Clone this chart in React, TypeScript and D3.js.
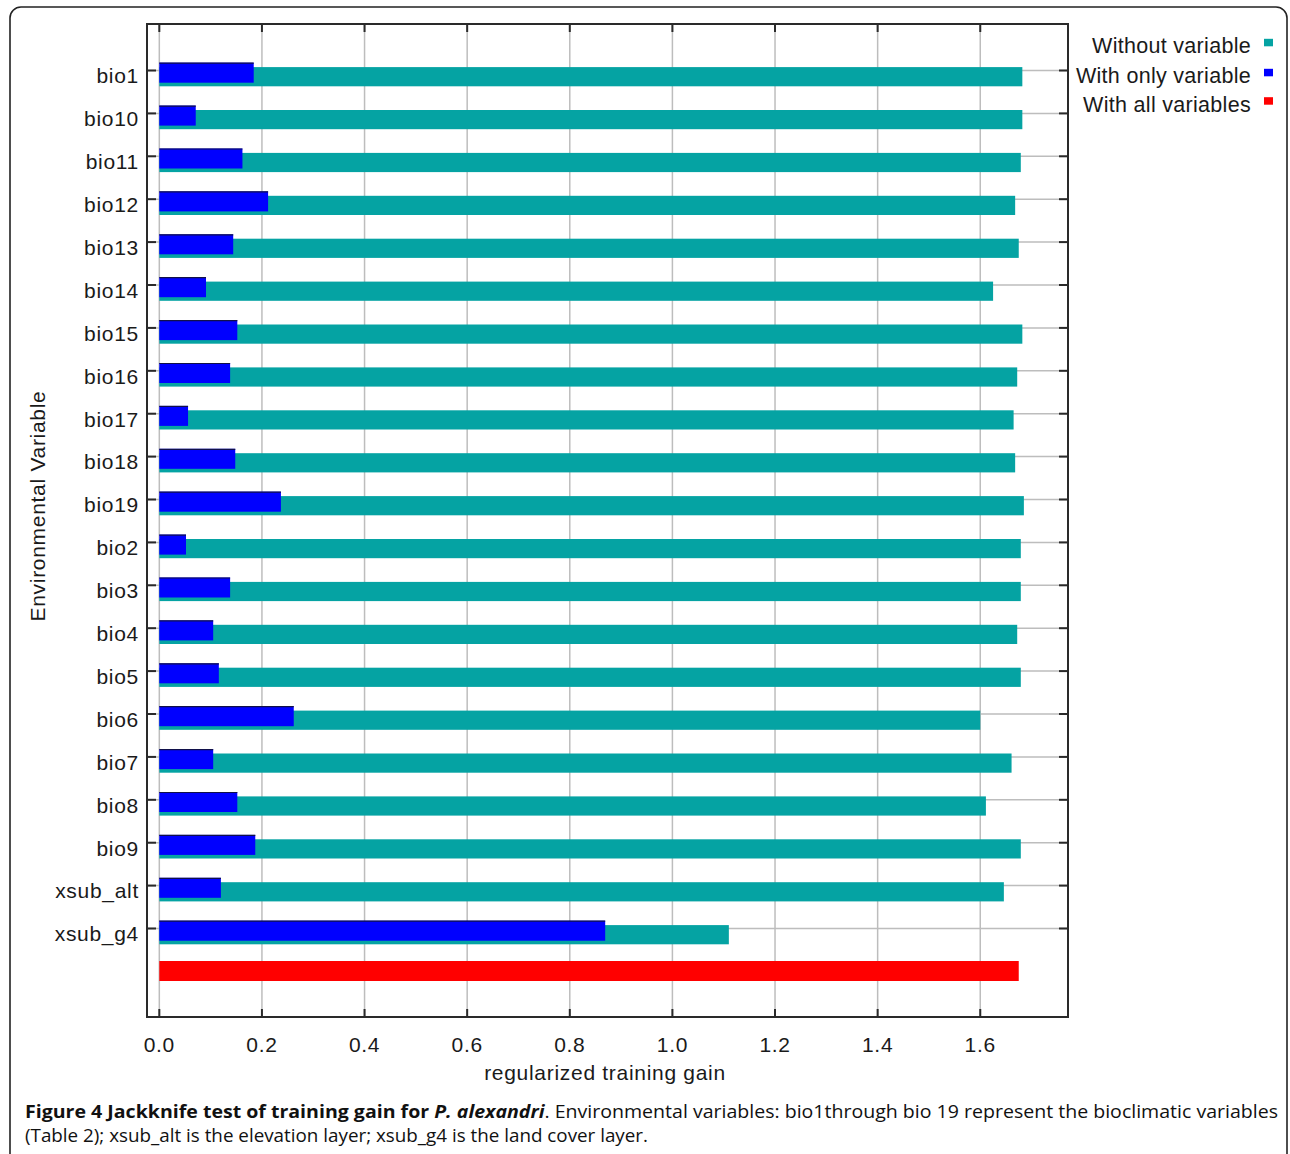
import React from 'react';
import * as d3 from 'd3';

// jackknife of regularized training gain
const variables = [
  'bio1', 'bio10', 'bio11', 'bio12', 'bio13', 'bio14', 'bio15', 'bio16', 'bio17', 'bio18',
  'bio19', 'bio2', 'bio3', 'bio4', 'bio5', 'bio6', 'bio7', 'bio8', 'bio9', 'xsub_alt', 'xsub_g4',
];
const withoutVariable = [
  1.682, 1.682, 1.679, 1.668, 1.675, 1.625, 1.682, 1.672, 1.665, 1.668,
  1.685, 1.679, 1.679, 1.672, 1.679, 1.600, 1.661, 1.611, 1.679, 1.646, 1.110,
];
const withOnlyVariable = [
  0.184, 0.071, 0.162, 0.212, 0.144, 0.091, 0.152, 0.138, 0.056, 0.148,
  0.237, 0.052, 0.138, 0.105, 0.116, 0.262, 0.105, 0.152, 0.187, 0.120, 0.869,
];
const withAllVariables = 1.675;
const xTicks = [0, 0.2, 0.4, 0.6, 0.8, 1.0, 1.2, 1.4, 1.6];
const legendLabels = ['Without variable', 'With only variable', 'With all variables'];
const legendColors = ['#05a3a3', '#0000ff', '#ff0000'];

const W = 1290;
const H = 1154;
const plot = { left: 147, right: 1068, top: 24, bottom: 1017 };
const labelFont = '"Liberation Sans", Arial, sans-serif';

export default function App() {
  const x = d3.scaleLinear().domain([-0.024, 1.771]).range([plot.left, plot.right]);
  const y = d3.scalePoint<string>().domain([...variables, 'all']).range([70.5, 971.4]);

  const teal = legendColors[0];
  const blue = legendColors[1];
  const red = legendColors[2];

  return (
    <div>
      <style>{'body{margin:0}'}</style>
      <svg width={W} height={H} style={{ display: 'block', background: '#fff' }}>
        <rect x={10} y={7} width={1277} height={1170} rx={11} fill="none" stroke="#222" strokeWidth={1.6} />

        {/* grid */}
        {xTicks.map(t => (
          <line key={'gx' + t} x1={x(t)} x2={x(t)} y1={plot.top} y2={plot.bottom} stroke="#bdbdbd" strokeWidth={1.5} />
        ))}
        {variables.map(v => (
          <line key={'gy' + v} x1={plot.left} x2={plot.right} y1={y(v)} y2={y(v)} stroke="#bdbdbd" strokeWidth={1.5} />
        ))}

        {/* bars */}
        {variables.map((v, i) => {
          const c = y(v) as number;
          const x0 = x(0);
          return (
            <g key={'b' + v}>
              <rect x={x0} y={c - 3.4} width={x(withoutVariable[i]) - x0} height={19.2} fill={teal} />
              <rect x={x0} y={c - 7.8} width={x(withOnlyVariable[i]) - x0} height={20} fill={blue} />
              <line x1={x0} x2={x(withOnlyVariable[i])} y1={c - 7.3} y2={c - 7.3} stroke="#10104a" strokeWidth={1.2} />
            </g>
          );
        })}
        <rect x={x(0)} y={(y('all') as number) - 10.4} width={x(withAllVariables) - x(0)} height={20} fill={red} />

        {/* frame and ticks */}
        <rect x={plot.left} y={plot.top} width={plot.right - plot.left} height={plot.bottom - plot.top}
          fill="none" stroke="#2a2a2a" strokeWidth={2} />
        {xTicks.map(t => (
          <g key={'tx' + t} stroke="#2a2a2a" strokeWidth={2}>
            <line x1={x(t)} x2={x(t)} y1={plot.top} y2={plot.top + 8} />
            <line x1={x(t)} x2={x(t)} y1={plot.bottom} y2={plot.bottom - 8} />
          </g>
        ))}
        {variables.map(v => (
          <g key={'ty' + v} stroke="#2a2a2a" strokeWidth={2}>
            <line x1={plot.left} x2={plot.left + 9} y1={y(v)} y2={y(v)} />
            <line x1={plot.right} x2={plot.right - 9} y1={y(v)} y2={y(v)} />
          </g>
        ))}

        {/* tick labels */}
        <g fontFamily={labelFont} fontSize={21} fill="#1a1a1a" letterSpacing={0.7}>
          {xTicks.map(t => (
            <text key={'lx' + t} x={x(t)} y={1051.5} textAnchor="middle">{d3.format('.1f')(t)}</text>
          ))}
          {variables.map(v => (
            <text key={'ly' + v} x={139} y={(y(v) as number) + 12.8} textAnchor="end">{v}</text>
          ))}
          <text x={605} y={1080} textAnchor="middle">regularized training gain</text>
          <text transform="translate(45,506) rotate(-90)" textAnchor="middle">Environmental Variable</text>
        </g>

        {/* legend */}
        <g fontFamily={labelFont} fontSize={21.5} fill="#1a1a1a" letterSpacing={0.3}>
          {legendLabels.map((l, i) => {
            const base = [53.3, 83.3, 111.7][i];
            return (
              <g key={l}>
                <text x={1251} y={base} textAnchor="end">{l}</text>
                <rect x={1264} y={base - 14.5} width={9} height={7.5} fill={legendColors[i]} />
              </g>
            );
          })}
        </g>

        {/* caption */}
        <g fontFamily='"Open Sans", "Noto Sans", sans-serif' fontSize={18} fill="#111">
          <text x={25} y={1118} textLength={1253} lengthAdjust="spacingAndGlyphs">
            <tspan fontWeight="bold">Figure 4 Jackknife test of training gain for </tspan>
            <tspan fontWeight="bold" fontStyle="italic">P. alexandri</tspan>
            <tspan>. Environmental variables: bio1through bio 19 represent the bioclimatic variables</tspan>
          </text>
          <text x={25} y={1142} textLength={623} lengthAdjust="spacingAndGlyphs">
            (Table 2); xsub_alt is the elevation layer; xsub_g4 is the land cover layer.
          </text>
        </g>
      </svg>
    </div>
  );
}
